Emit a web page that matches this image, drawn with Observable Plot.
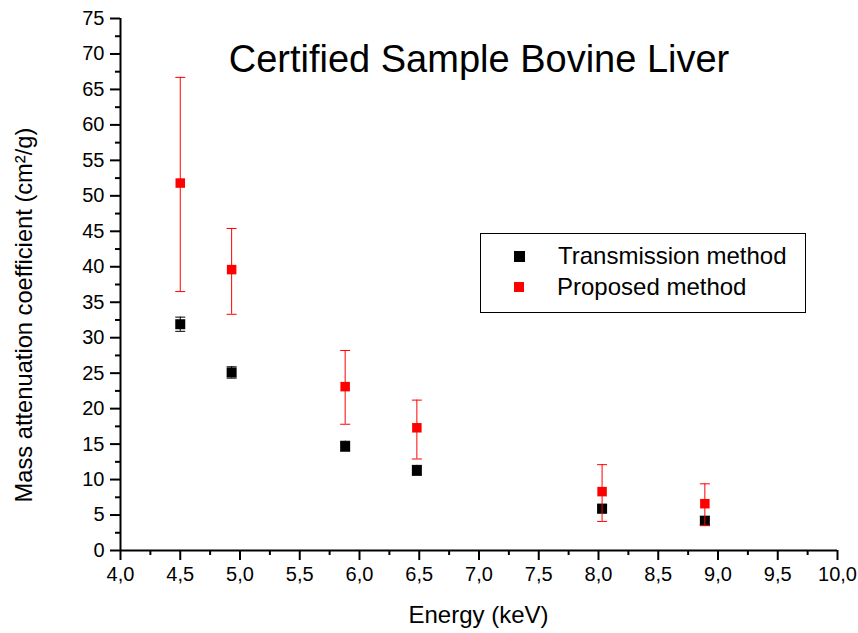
<!DOCTYPE html>
<html>
<head>
<meta charset="utf-8">
<script src="https://cdn.jsdelivr.net/npm/d3@7"></script>
<script src="https://cdn.jsdelivr.net/npm/@observablehq/plot@0.6"></script>
<style>
  html, body { margin: 0; padding: 0; background: #fff; }
  #wrap { position: relative; width: 858px; height: 633px; font-family: "Liberation Sans", Arial, sans-serif; color: #000; }
  #title { position: absolute; left: 0; width: 958px; top: 40px; text-align: center; font-size: 38px; line-height: 1; white-space: nowrap; pointer-events: none; }
  #ylab { position: absolute; left: 25px; top: 315px; font-size: 23.7px; line-height: 1; white-space: nowrap; transform: translate(-50%, -50%) rotate(-90deg); }
  #xlab { position: absolute; left: 0; width: 957px; top: 601px; text-align: center; font-size: 24px; white-space: nowrap; }
  #legend { position: absolute; left: 480px; top: 233px; width: 324px; height: 78px; border: 1px solid #000; background: #fff; }
  .row { position: absolute; left: 0; height: 30px; display: flex; align-items: center; font-size: 24px; white-space: nowrap; }
  .sw { display: inline-block; width: 11px; height: 11px; margin-left: 33px; margin-right: 33px; }
</style>
</head>
<body>
<div id="wrap">
  <div id="chart"></div>
  <div id="title">Certified Sample Bovine Liver</div>
  <div id="ylab">Mass attenuation coefficient (cm²/g)</div>
  <div id="xlab">Energy (keV)</div>
  <div id="legend"></div>
</div>
<script>
// Data
const energy = [4.50, 4.93, 5.88, 6.48, 8.03, 8.89];
const transmission = [31.9, 25.1, 14.7, 11.3, 5.9, 4.2];
const transmissionErr = [1.0, 0.8, 0.7, 0.7, 0.6, 0.6];
const proposed = [51.8, 39.6, 23.1, 17.3, 8.3, 6.6];
const proposedLow = [36.5, 33.3, 17.8, 12.9, 4.1, 3.5];
const proposedHigh = [66.7, 45.4, 28.2, 21.2, 12.1, 9.4];
const seriesNames = ["Transmission method", "Proposed method"];
const seriesColors = ["#000000", "#ff0000"];
const xTicks = [4.0, 4.5, 5.0, 5.5, 6.0, 6.5, 7.0, 7.5, 8.0, 8.5, 9.0, 9.5, 10.0];
const xMinorTicks = [4.25, 4.75, 5.25, 5.75, 6.25, 6.75, 7.25, 7.75, 8.25, 8.75, 9.25, 9.75];
const yTicks = [0, 5, 10, 15, 20, 25, 30, 35, 40, 45, 50, 55, 60, 65, 70, 75];
const yMinorTicks = [2.5, 7.5, 12.5, 17.5, 22.5, 27.5, 32.5, 37.5, 42.5, 47.5, 52.5, 57.5, 62.5, 67.5, 72.5];

const tData = energy.map((e, i) => ({x: e, y: transmission[i], lo: transmission[i] - transmissionErr[i], hi: transmission[i] + transmissionErr[i]}));
const pData = energy.map((e, i) => ({x: e, y: proposed[i], lo: proposedLow[i], hi: proposedHigh[i]}));

// horizontal cap symbol for error bars
const capSymbol = {
  draw(context, size) {
    const w = Math.sqrt(size);
    context.moveTo(-w / 2, 0);
    context.lineTo(w / 2, 0);
  }
};
const capR = 10 / Math.sqrt(Math.PI);
const sqR = 10 / Math.sqrt(Math.PI);

const fmt = d => d.toFixed(1).replace(".", ",");

const chart = Plot.plot({
  width: 858,
  height: 633,
  marginLeft: 120,
  marginRight: 21,
  marginTop: 18,
  marginBottom: 83,
  style: {fontFamily: "'Liberation Sans', Arial, sans-serif", fontSize: "20px", color: "#000", background: "#fff"},
  x: {domain: [4, 10]},
  y: {domain: [0, 75]},
  marks: [
    // error bars
    Plot.ruleX(tData, {x: "x", y1: "lo", y2: "hi", stroke: seriesColors[0], strokeWidth: 1}),
    Plot.dot(tData, {x: "x", y: "lo", symbol: capSymbol, r: capR, stroke: seriesColors[0], strokeWidth: 1}),
    Plot.dot(tData, {x: "x", y: "hi", symbol: capSymbol, r: capR, stroke: seriesColors[0], strokeWidth: 1}),
    Plot.dot(tData, {x: "x", y: "y", symbol: "square", r: sqR, fill: seriesColors[0], stroke: "none"}),
    Plot.ruleX(pData, {x: "x", y1: "lo", y2: "hi", stroke: seriesColors[1], strokeWidth: 1}),
    Plot.dot(pData, {x: "x", y: "lo", symbol: capSymbol, r: capR, stroke: seriesColors[1], strokeWidth: 1}),
    Plot.dot(pData, {x: "x", y: "hi", symbol: capSymbol, r: capR, stroke: seriesColors[1], strokeWidth: 1}),
    Plot.dot(pData, {x: "x", y: "y", symbol: "square", r: sqR * 0.95, fill: seriesColors[1], stroke: "none"}),
    // axes
    Plot.axisY({ticks: yTicks, tickSize: 10, tickPadding: 6, strokeWidth: 2, label: null, fontSize: 20}),
    Plot.axisY({ticks: yMinorTicks, tickSize: 5, text: null, strokeWidth: 2, label: null}),
    Plot.axisX({ticks: xTicks, tickFormat: fmt, tickSize: 10, tickPadding: 6, strokeWidth: 2, label: null, fontSize: 20}),
    Plot.axisX({ticks: xMinorTicks, tickSize: 5, text: null, strokeWidth: 2, label: null}),
    Plot.ruleX([4], {y1: 0, y2: 75, strokeWidth: 2, stroke: "#000"}),
    Plot.ruleY([0], {x1: 4, x2: 10, strokeWidth: 2, stroke: "#000"})
  ]
});
d3.select(chart).selectAll("text")
  .style("font-family", "'Liberation Sans', Arial, sans-serif")
  .style("font-size", "20px")
  .style("fill", "#000");
document.getElementById("chart").appendChild(chart);

// legend
const legend = document.getElementById("legend");
seriesNames.forEach((name, i) => {
  const row = document.createElement("div");
  row.className = "row";
  row.style.top = (i === 0 ? 7 : 38) + "px";
  const sw = document.createElement("span");
  sw.className = "sw";
  sw.style.background = seriesColors[i];
  if (i === 1) { sw.style.width = "10px"; sw.style.height = "10px"; }
  const label = document.createElement("span");
  label.textContent = name;
  row.appendChild(sw);
  row.appendChild(label);
  legend.appendChild(row);
});
</script>
</body>
</html>
